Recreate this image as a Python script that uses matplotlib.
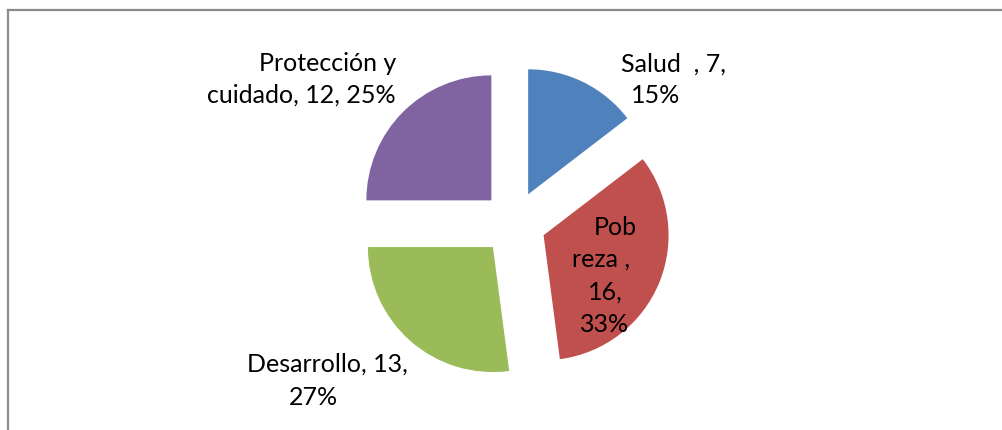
import matplotlib
matplotlib.use("Agg")
import matplotlib.pyplot as plt
from matplotlib.lines import Line2D

# data
categories = ["Salud", "Pobreza", "Desarrollo", "Protección y cuidado"]
values = [7, 16, 13, 12]
colors = ["#4F81BD", "#C0504D", "#9BBB59", "#8064A2"]

W, H = 1003, 430
total = sum(values)
pcts = [round(100 * v / total) for v in values]

plt.rcParams["font.family"] = ["Lato", "DejaVu Sans"]

fig = plt.figure(figsize=(W / 100, H / 100), dpi=100)
ax = fig.add_axes([0, 0, 1, 1])

# pie in pixel units; explode is an absolute offset in data units
radius = 125
ax.pie(values, colors=colors, startangle=90, counterclock=False,
       center=(514, H - 223), radius=radius, explode=[32] * 4,
       wedgeprops=dict(linewidth=0), frame=True)
ax.set_xlim(0, W)
ax.set_ylim(0, H)
ax.set_aspect("equal")
ax.axis("off")

# label lines: (text, x, baseline y from top, ha)
labels = [
    (f"{categories[0]}  , {values[0]},", 674, 72, "center"),
    (f"{pcts[0]}%", 656, 103, "center"),
    ("Pob", 615, 235, "center"),
    ("reza ,", 601, 267, "center"),
    (f"{values[1]},", 605, 300, "center"),
    (f"{pcts[1]}%", 605, 332, "center"),
    (f"{categories[2]}, {values[2]},", 327, 372, "center"),
    (f"{pcts[2]}%", 313, 405, "center"),
    ("Protección y", 396, 71, "right"),
    (f"cuidado, {values[3]}, {pcts[3]}%", 396, 103, "right"),
]
for txt, x, y, ha in labels:
    ax.text(x, H - y, txt, ha=ha, va="baseline", fontsize=18, color="black")

# chart area border (only left and top visible)
border = "#8C8C8C"
fig.add_artist(Line2D([8 / W, 8 / W], [0, 1 - 10 / H], transform=fig.transFigure,
                      color=border, linewidth=1.6))
fig.add_artist(Line2D([8 / W, 1], [1 - 10 / H, 1 - 10 / H], transform=fig.transFigure,
                      color=border, linewidth=1.6))

fig.savefig("out.png", dpi=100)
